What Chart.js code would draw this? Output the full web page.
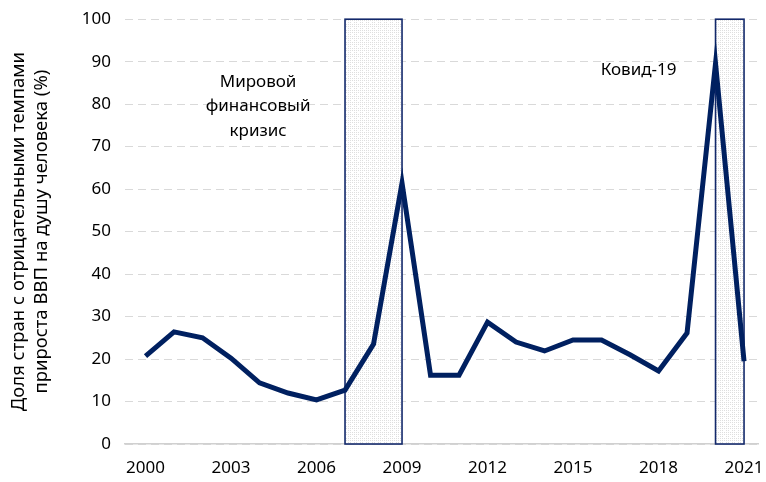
<!DOCTYPE html>
<html>
<head>
<meta charset="utf-8">
<script src="https://cdn.jsdelivr.net/npm/chart.js@4"></script>
<style>
html,body{margin:0;padding:0;background:#fff;}
#wrap{width:766px;height:482px;}
</style>
</head>
<body>
<div id="wrap"><canvas id="c" width="766" height="482"></canvas></div>
<script>
const years = [2000,2001,2002,2003,2004,2005,2006,2007,2008,2009,2010,2011,2012,2013,2014,2015,2016,2017,2018,2019,2020,2021];
const shareNegative = [20.7,26.4,25.0,20.2,14.4,12.0,10.4,12.7,23.5,61.4,16.2,16.2,28.7,24.0,21.9,24.5,24.5,21.0,17.2,26.1,89.6,19.5];
const xTickLabels = [2000,2003,2006,2009,2012,2015,2018,2021];
const crisisPeriods = [[2007,2009],[2020,2021]];
const crisisLabels = [["Мировой","финансовый","кризис"],["Ковид-19"]];
const yTitle = ["Доля стран с отрицательными темпами","прироста ВВП на душу человека (%)"];

const FONT = '"Noto Sans", "Open Sans", sans-serif';

function makePattern(ctx){
  const p = document.createElement('canvas');
  p.width = 6; p.height = 6;
  const g = p.getContext('2d');
  g.fillStyle = '#ffffff'; g.fillRect(0,0,6,6);
  g.fillStyle = '#dedede';
  for (let i=0;i<6;i+=2) for (let j=0;j<6;j+=2) { if (!(i===4 && j===4)) g.fillRect(i,j,1,1); }
  return ctx.createPattern(p,'repeat');
}

const crisisPlugin = {
  id:'crisis',
  beforeDatasetsDraw(chart){
    const {ctx, scales:{x,y}} = chart;
    ctx.save();
    const pat = makePattern(ctx);
    crisisPeriods.forEach(([a,b])=>{
      const x0 = x.getPixelForValue(a), x1 = x.getPixelForValue(b);
      const y0 = y.getPixelForValue(100), y1 = y.getPixelForValue(0);
      ctx.fillStyle = pat;
      ctx.fillRect(x0,y0,x1-x0,y1-y0);
      ctx.strokeStyle = '#13296b';
      ctx.lineWidth = 1.6;
      ctx.strokeRect(x0,y0,x1-x0,y1-y0);
    });
    ctx.restore();
  },
  afterDatasetsDraw(chart){
    const {ctx, scales:{x,y}} = chart;
    ctx.save();
    ctx.fillStyle = '#000';
    ctx.font = '17px ' + FONT;
    ctx.textAlign = 'center';
    ctx.textBaseline = 'middle';
    const cx1 = x.getPixelForValue(2003.95);
    crisisLabels[0].forEach((t,i)=>ctx.fillText(t, cx1, y.getPixelForValue(85.2) + i*24.5));
    const cx2 = x.getPixelForValue(2017.3);
    crisisLabels[1].forEach((t,i)=>ctx.fillText(t, cx2, y.getPixelForValue(88.0) + i*24.5));
    ctx.restore();
  }
};

new Chart(document.getElementById('c'), {
  type:'line',
  data:{
    datasets:[{
      data: years.map((yr,i)=>({x:yr, y:shareNegative[i]})),
      borderColor:'#002060',
      borderWidth:5,
      pointRadius:0,
      tension:0,
      borderJoinStyle:'miter',
      fill:false
    }]
  },
  options:{
    responsive:false,
    animation:false,
    devicePixelRatio:1,
    layout:{padding:{top:0,right:8,bottom:0,left:2}},
    plugins:{legend:{display:false},tooltip:{enabled:false}},
    scales:{
      x:{
        type:'linear',
        min:1999.28,
        max:2021.49,
        afterBuildTicks(s){ s.ticks = xTickLabels.map(v=>({value:v})); },
        ticks:{color:'#000',font:{family:FONT,size:17},padding:0,maxRotation:0,callback:v=>String(v)},
        grid:{display:true,drawOnChartArea:false,drawTicks:true,tickLength:14,tickColor:'rgba(0,0,0,0)'},
        border:{display:true,color:'#d0d0d0',width:1.5},
        afterFit(s){ s.height = 38; }
      },
      y:{
        min:0,max:100,
        ticks:{stepSize:10,color:'#000',font:{family:FONT,size:17},padding:9},
        grid:{color:'#d9d9d9',lineWidth:1,drawTicks:true,tickLength:5,tickColor:'rgba(0,0,0,0)'},
        border:{display:false,dash:[8,5]},
        title:{display:true,text:yTitle,color:'#000',font:{family:FONT,size:18.5,lineHeight:1.25},padding:{top:5,bottom:4}},
        afterFit(s){ s.width = 123; }
      }
    }
  },
  plugins:[crisisPlugin]
});
</script>
</body>
</html>
